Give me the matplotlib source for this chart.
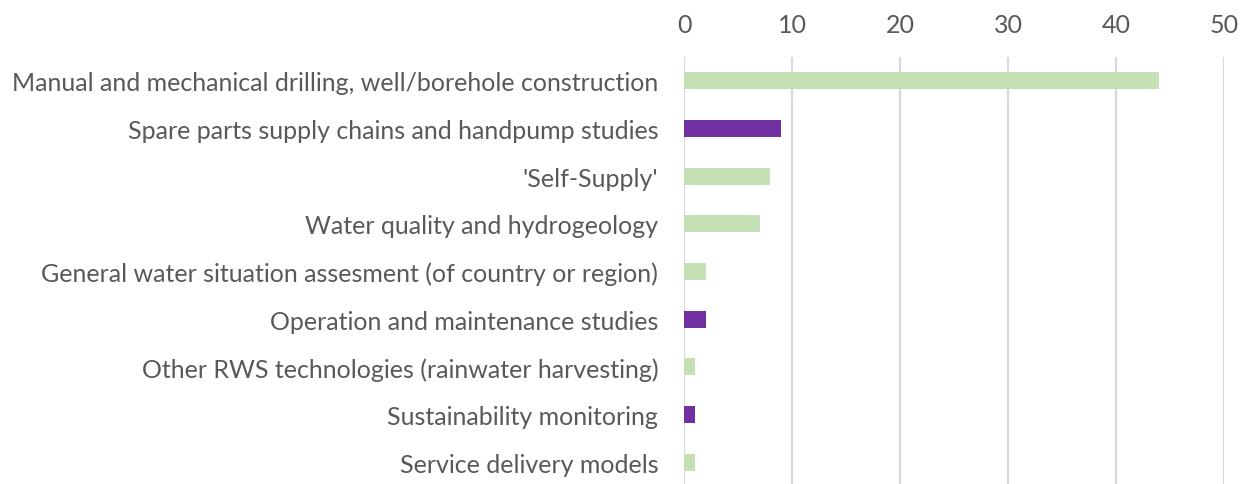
import matplotlib.pyplot as plt

labels = [
    'Manual and mechanical drilling, well/borehole construction',
    'Spare parts supply chains and handpump studies',
    "'Self-Supply'",
    'Water quality and hydrogeology',
    'General water situation assesment (of country or region)',
    'Operation and maintenance studies',
    'Other RWS technologies (rainwater harvesting)',
    'Sustainability monitoring',
    'Service delivery models',
]
values = [44, 9, 8, 7, 2, 2, 1, 1, 1]
highlight = [False, True, False, False, False, True, False, True, False]
xticks = [0, 10, 20, 30, 40, 50]

green = '#c5e0b4'
purple = '#7030a0'
grey = '#595959'

plt.rcParams['font.family'] = ['Lato', 'DejaVu Sans']

fig = plt.figure(figsize=(12.47, 4.85), dpi=100)
ax = fig.add_axes([684 / 1247, -2 / 485, 540 / 1247, 429 / 485])

colors = [purple if h else green for h in highlight]
ypos = list(range(len(labels)))
ax.barh(ypos, values, height=0.36, color=colors, zorder=3)

ax.set_xlim(0, 50)
ax.set_ylim(len(labels) - 0.5, -0.5)
ax.set_xticks(xticks)
ax.set_yticks(ypos)
ax.set_yticklabels(labels)
ax.xaxis.tick_top()
ax.tick_params(axis='both', length=0, labelsize=18, colors=grey)
ax.tick_params(axis='x', pad=15)
ax.tick_params(axis='y', pad=18.5)
ax.grid(axis='x', color='#d9d9d9', linewidth=1.6, zorder=0)
for s in ax.spines.values():
    s.set_visible(False)

fig.savefig('out.png', dpi=100)
